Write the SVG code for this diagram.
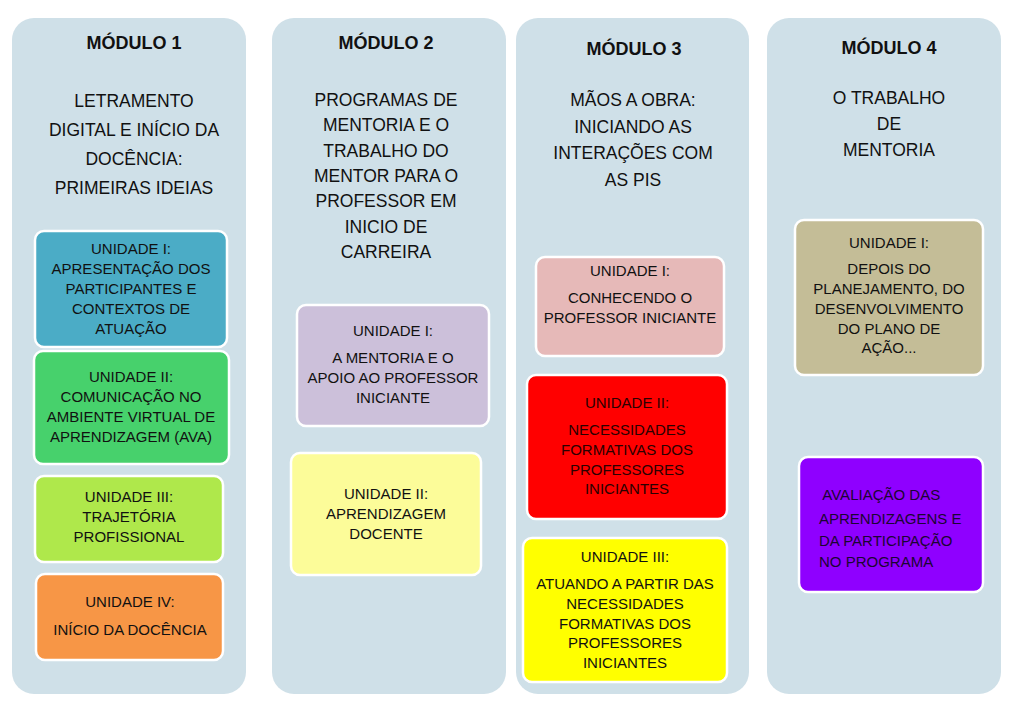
<svg xmlns="http://www.w3.org/2000/svg" width="1024" height="714" viewBox="0 0 1024 714">
<style>
.panel{fill:#cfe0e8;}
.unit{stroke:#ffffff;stroke-width:2.5;}
text{font-family:"Liberation Sans",Arial,sans-serif;fill:#111111;}
.h{font-size:18px;font-weight:bold;text-anchor:middle;}
.t{font-size:17.5px;text-anchor:middle;}
.u{font-size:15px;text-anchor:middle;}
.ul{font-size:15px;}
</style>
<rect width="1024" height="714" fill="#ffffff"/>
<g id="connectors"></g>

<g id="modulo1">
<rect class="panel" x="12" y="18" width="234" height="676" rx="22"/>
<text class="h" x="134" y="49">MÓDULO 1</text>
<text class="t" x="134" y="107">LETRAMENTO</text>
<text class="t" x="134" y="136">DIGITAL E INÍCIO DA</text>
<text class="t" x="134" y="165">DOCÊNCIA:</text>
<text class="t" x="134" y="194">PRIMEIRAS IDEIAS</text>
</g>
<g id="m1u1">
<rect class="unit" x="35" y="231" width="192" height="116" rx="9" fill="#4bacc6"/>
<text class="u" x="131" y="254">UNIDADE I:</text>
<text class="u" x="131" y="274">APRESENTAÇÃO DOS</text>
<text class="u" x="131" y="294">PARTICIPANTES E</text>
<text class="u" x="131" y="314">CONTEXTOS DE</text>
<text class="u" x="131" y="334">ATUAÇÃO</text>
</g>
<g id="m1u2">
<rect class="unit" x="34" y="351" width="195" height="113" rx="9" fill="#47d16c"/>
<text class="u" x="131" y="382">UNIDADE II:</text>
<text class="u" x="131" y="402">COMUNICAÇÃO NO</text>
<text class="u" x="131" y="422">AMBIENTE VIRTUAL DE</text>
<text class="u" x="131" y="442">APRENDIZAGEM (AVA)</text>
</g>
<g id="m1u3">
<rect class="unit" x="35" y="476" width="188" height="86" rx="9" fill="#afe84b"/>
<text class="u" x="129" y="502">UNIDADE III:</text>
<text class="u" x="129" y="522">TRAJETÓRIA</text>
<text class="u" x="129" y="542">PROFISSIONAL</text>
</g>
<g id="m1u4">
<rect class="unit" x="36" y="574" width="187" height="86" rx="9" fill="#f79646"/>
<text class="u" x="130" y="607">UNIDADE IV:</text>
<text class="u" x="130" y="635">INÍCIO DA DOCÊNCIA</text>
</g>

<g id="modulo2">
<rect class="panel" x="272" y="18" width="234" height="676" rx="22"/>
<text class="h" x="386" y="49">MÓDULO 2</text>
<text class="t" x="386" y="106">PROGRAMAS DE</text>
<text class="t" x="386" y="131.3">MENTORIA E O</text>
<text class="t" x="386" y="156.6">TRABALHO DO</text>
<text class="t" x="386" y="181.9">MENTOR PARA O</text>
<text class="t" x="386" y="207.2">PROFESSOR EM</text>
<text class="t" x="386" y="232.5">INICIO DE</text>
<text class="t" x="386" y="257.8">CARREIRA</text>
</g>
<g id="m2u1">
<rect class="unit" x="297" y="305" width="192" height="121" rx="9" fill="#ccc0da"/>
<text class="u" x="393" y="336">UNIDADE I:</text>
<text class="u" x="393" y="363">A MENTORIA E O</text>
<text class="u" x="393" y="383">APOIO AO PROFESSOR</text>
<text class="u" x="393" y="403">INICIANTE</text>
</g>
<g id="m2u2">
<rect class="unit" x="291" y="453" width="190" height="122" rx="9" fill="#fcfc99"/>
<text class="u" x="386" y="499">UNIDADE II:</text>
<text class="u" x="386" y="519">APRENDIZAGEM</text>
<text class="u" x="386" y="539">DOCENTE</text>
</g>

<g id="modulo3">
<rect class="panel" x="516" y="18" width="233" height="676" rx="22"/>
<text class="h" x="634" y="55">MÓDULO 3</text>
<text class="t" x="633" y="106">MÃOS A OBRA:</text>
<text class="t" x="633" y="132.5">INICIANDO AS</text>
<text class="t" x="633" y="159">INTERAÇÕES COM</text>
<text class="t" x="633" y="185.5">AS PIS</text>
</g>
<g id="m3u1">
<rect class="unit" x="536" y="257" width="188" height="99" rx="9" fill="#e6b9b8"/>
<text class="u" x="630" y="276">UNIDADE I:</text>
<text class="u" x="630" y="303">CONHECENDO O</text>
<text class="u" x="630" y="323">PROFESSOR INICIANTE</text>
</g>
<g id="m3u2">
<rect class="unit" x="527" y="375" width="200" height="144" rx="9" fill="#ff0000"/>
<text class="u" x="627" y="408" style="fill:#2a0000">UNIDADE II:</text>
<text class="u" x="627" y="435" style="fill:#2a0000">NECESSIDADES</text>
<text class="u" x="627" y="455" style="fill:#2a0000">FORMATIVAS DOS</text>
<text class="u" x="627" y="475" style="fill:#2a0000">PROFESSORES</text>
<text class="u" x="627" y="494" style="fill:#2a0000">INICIANTES</text>
</g>
<g id="m3u3">
<rect class="unit" x="523" y="538" width="204" height="144" rx="9" fill="#ffff00"/>
<text class="u" x="625" y="562">UNIDADE III:</text>
<text class="u" x="625" y="589">ATUANDO A PARTIR DAS</text>
<text class="u" x="625" y="609">NECESSIDADES</text>
<text class="u" x="625" y="629">FORMATIVAS DOS</text>
<text class="u" x="625" y="648">PROFESSORES</text>
<text class="u" x="625" y="668">INICIANTES</text>
</g>

<g id="modulo4">
<rect class="panel" x="767" y="18" width="234" height="676" rx="22"/>
<text class="h" x="889" y="54">MÓDULO 4</text>
<text class="t" x="889" y="104">O TRABALHO</text>
<text class="t" x="889" y="130">DE</text>
<text class="t" x="889" y="156">MENTORIA</text>
</g>
<g id="m4u1">
<rect class="unit" x="795" y="220" width="188" height="155" rx="9" fill="#c4bd97"/>
<text class="u" x="889" y="248">UNIDADE I:</text>
<text class="u" x="889" y="274">DEPOIS DO</text>
<text class="u" x="889" y="294">PLANEJAMENTO, DO</text>
<text class="u" x="889" y="314">DESENVOLVIMENTO</text>
<text class="u" x="889" y="334">DO PLANO DE</text>
<text class="u" x="889" y="353">AÇÃO...</text>
</g>
<g id="m4u2">
<rect class="unit" x="799" y="457" width="184" height="135" rx="9" fill="#8f00ff"/>
<text class="ul" x="819" y="500" xml:space="preserve" style="fill:#1c0533"> AVALIAÇÃO DAS</text>
<text class="ul" x="819" y="524" style="fill:#1c0533">APRENDIZAGENS E</text>
<text class="ul" x="819" y="546" style="fill:#1c0533">DA PARTICIPAÇÃO</text>
<text class="ul" x="819" y="567" style="fill:#1c0533">NO PROGRAMA</text>
</g>
</svg>
